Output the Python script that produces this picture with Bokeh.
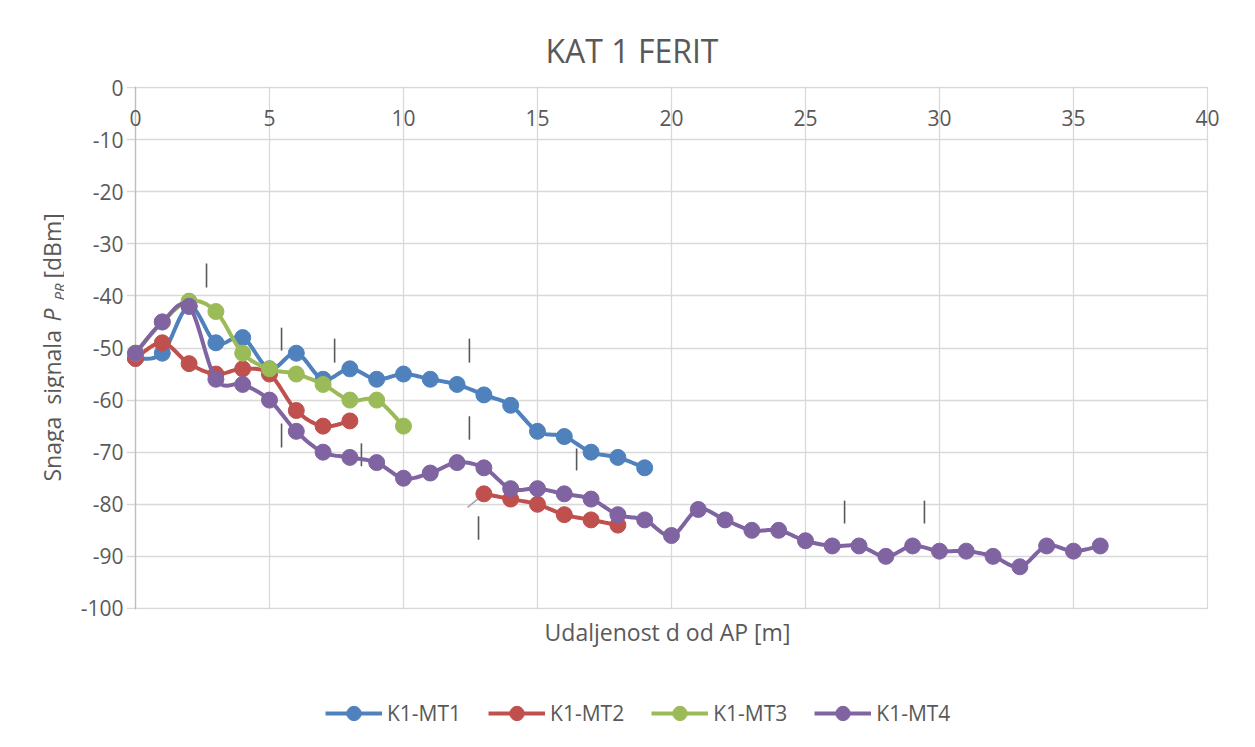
import numpy as np
from bokeh.plotting import figure
from bokeh.layouts import row, column
from bokeh.models import (Range1d, Legend, LegendItem, FixedTicker, LinearAxis, Grid,
                          ColumnDataSource)
from bokeh.embed import file_html
from bokeh.resources import INLINE
from bokeh.core.properties import value

# ---------------- data ----------------
title_text = "KAT 1 FERIT"
x_title = "Udaljenost d od AP [m]"
y_title_parts = ["Snaga\u00a0\u00a0signala\u00a0", "P", "PR", "[dBm]"]
series_names = ["K1-MT1", "K1-MT2", "K1-MT3", "K1-MT4"]
series_colors = ["#4F81BD", "#C0504D", "#9BBB59", "#8064A2"]

x_mt1 = list(range(0, 20))
y_mt1 = [-52, -51, -42, -49, -48, -54, -51, -56, -54, -56, -55, -56, -57, -59, -61, -66, -67, -70, -71, -73]

x_mt2 = [0, 1, 2, 3, 4, 5, 6, 7, 8, None, 13, 14, 15, 16, 17, 18]
y_mt2 = [-52, -49, -53, -55, -54, -55, -62, -65, -64, None, -78, -79, -80, -82, -83, -84]

x_mt3 = list(range(0, 11))
y_mt3 = [-51, -45, -41, -43, -51, -54, -55, -57, -60, -60, -65]

x_mt4 = list(range(0, 37))
y_mt4 = [-51, -45, -42, -56, -57, -60, -66, -70, -71, -72,
         -75, -74, -72, -73, -77, -77, -78, -79, -82, -83,
         -86, -81, -83, -85, -85, -87, -88, -88, -90, -88,
         -89, -89, -90, -92, -88, -89, -88]

x_ticks = [0, 5, 10, 15, 20, 25, 30, 35, 40]
y_ticks = [0, -10, -20, -30, -40, -50, -60, -70, -80, -90, -100]

# stray vertical marks seen on the chart (x, y_top, y_bottom)
mark_x = [2.65, 5.45, 7.43, 12.46, 5.45, 8.43, 12.46, 16.46, 12.8, 26.46, 29.44]
mark_y0 = [-33.8, -46.1, -48.2, -48.2, -64.5, -68.3, -63.1, -69.3, -82.3, -79.3, -79.3]
mark_y1 = [-38.4, -50.5, -52.8, -52.8, -69.1, -72.7, -67.6, -73.5, -86.8, -83.7, -83.7]
# small grey leader line
leader_x = [12.39, 12.99]
leader_y = [-80.6, -78.1]

FONT = "Open Sans"
TXT = "#595959"
GRID = "#d9d9d9"


def smooth(xs, ys, n=16):
    """Bezier smoothing through the points (like Excel smoothed lines); None splits segments."""
    segs, cx, cy = [], [], []
    for a, b in zip(xs, ys):
        if a is None:
            if cx:
                segs.append((cx, cy))
            cx, cy = [], []
        else:
            cx.append(a); cy.append(b)
    if cx:
        segs.append((cx, cy))
    outx, outy = [], []
    for sx, sy in segs:
        P = np.column_stack([sx, sy]).astype(float)
        m = len(P)
        for i in range(m - 1):
            p0 = P[i - 1] if i > 0 else P[i]
            p1, p2 = P[i], P[i + 1]
            p3 = P[i + 2] if i + 2 < m else P[i + 1]
            c1 = p1 + (p2 - p0) / 6.0
            c2 = p2 - (p3 - p1) / 6.0
            t = np.linspace(0, 1, n)[:, None]
            pts = ((1 - t) ** 3) * p1 + 3 * ((1 - t) ** 2) * t * c1 + 3 * (1 - t) * t ** 2 * c2 + t ** 3 * p2
            outx += list(pts[:, 0]); outy += list(pts[:, 1])
        outx.append(np.nan); outy.append(np.nan)
    return outx, outy


TOTAL_W, TOTAL_H = 1239, 731
YW = 64           # strip holding the y axis title
MAIN_W = TOTAL_W - YW
MAIN_H = 655
LEG_H = TOTAL_H - MAIN_H

series_x = [x_mt1, x_mt2, x_mt3, x_mt4]
series_y = [y_mt1, y_mt2, y_mt3, y_mt4]

# ---------------- main chart ----------------
# a little room around 0..40 / -100..0 so edge markers and edge grid lines are not clipped
p = figure(width=MAIN_W, height=MAIN_H, output_backend="svg", toolbar_location=None,
           x_range=Range1d(-0.336, 40.04), y_range=Range1d(-100.2, 0.2),
           min_border_left=62, min_border_right=31, min_border_top=86, min_border_bottom=46,
           background_fill_color="white", border_fill_color="white")
p.outline_line_color = None

p.title.text = title_text
p.title.align = "left"
p.title.offset = 419
p.title.text_font = FONT
p.title.text_font_size = "32px"
p.title.text_font_style = "normal"
p.title.text_color = TXT
p.title.standoff = 30

p.xgrid.ticker = FixedTicker(ticks=x_ticks)
p.ygrid.ticker = FixedTicker(ticks=y_ticks)
p.xgrid.grid_line_color = GRID
p.ygrid.grid_line_color = GRID
p.xgrid.grid_line_width = 1.3
p.ygrid.grid_line_width = 1.3
p.xgrid.bounds = (-100, 0)
p.ygrid.bounds = (0, 40)
# the value axis line at x = 0
p.add_layout(Grid(dimension=0, ticker=FixedTicker(ticks=[0]), bounds=(-100, 0),
                  grid_line_color="#bfbfbf", grid_line_width=1.3))

p.yaxis.ticker = FixedTicker(ticks=y_ticks)
p.yaxis.major_label_overrides = {v: str(v) for v in y_ticks}
p.yaxis.axis_line_color = None
p.yaxis.major_tick_line_color = None
p.yaxis.minor_tick_line_color = None
p.yaxis.major_tick_out = 0
p.yaxis.major_tick_in = 0
p.yaxis.major_label_standoff = 3
p.yaxis.major_label_text_font = FONT
p.yaxis.major_label_text_font_size = "21px"
p.yaxis.major_label_text_color = TXT

# bottom axis: only its title
p.xaxis.ticker = FixedTicker(ticks=[])
p.xaxis.axis_line_color = None
p.xaxis.major_tick_line_color = None
p.xaxis.minor_tick_line_color = None
p.xaxis.axis_label = x_title
p.xaxis.axis_label_text_font = FONT
p.xaxis.axis_label_text_font_size = "23px"
p.xaxis.axis_label_text_font_style = "normal"
p.xaxis.axis_label_text_color = TXT
p.xaxis.axis_label_standoff = 6

# x tick labels sit just under the y=0 line (axis crosses at 0, as in Excel)
top_axis = LinearAxis(ticker=FixedTicker(ticks=x_ticks), axis_line_color=None,
                      major_tick_line_color=None, minor_tick_line_color=None,
                      major_tick_in=0, major_tick_out=0, major_label_standoff=-39,
                      major_label_text_font=FONT, major_label_text_font_size="21px",
                      major_label_text_color=TXT)
p.add_layout(top_axis, "above")

# stray marks present in the source image
p.segment(x0=mark_x, y0=mark_y0, x1=mark_x, y1=mark_y1, line_color="#595959", line_width=1.6)
p.line(leader_x, leader_y, line_color="#a6a6a6", line_width=1.6)

for col, xs, ys in zip(series_colors, series_x, series_y):
    sx, sy = smooth(xs, ys)
    p.line(sx, sy, line_color=col, line_width=4, line_join="round", line_cap="round")
    px = [a for a in xs if a is not None]
    py = [b for b in ys if b is not None]
    p.scatter(px, py, marker="circle", size=16, fill_color=col, line_color=col)

# ---------------- y axis title strip ----------------
yf = figure(width=YW, height=TOTAL_H, output_backend="svg", toolbar_location=None,
            x_range=Range1d(0, YW), y_range=Range1d(0, TOTAL_H),
            x_axis_type=None, y_axis_type=None, min_border=0,
            background_fill_color="white", border_fill_color="white")
yf.outline_line_color = None
yf.grid.visible = False
yl_src = ColumnDataSource(dict(
    x=[51, 51, 58, 51],
    y=[250, 410, 431, 453],
    t=y_title_parts,
    size=["23px", "23px", "15px", "23px"],
    style=["normal", "italic", "italic", "normal"]))
yf.text(x="x", y="y", text="t", source=yl_src, angle=np.pi / 2, text_font=value(FONT),
        text_font_size="size", text_font_style="style", text_color=TXT,
        text_align="left", text_baseline="middle")

# ---------------- legend strip ----------------
# the series are drawn here outside the visible range, only to feed the legend glyphs
lf = figure(width=MAIN_W, height=LEG_H, output_backend="svg", toolbar_location=None,
            x_range=Range1d(0, 1), y_range=Range1d(1000, 1001),
            x_axis_type=None, y_axis_type=None, min_border=0,
            background_fill_color="white", border_fill_color="white")
lf.outline_line_color = None
lf.grid.visible = False
items = []
for name, col, xs, ys in zip(series_names, series_colors, series_x, series_y):
    px = [a for a in xs if a is not None]
    py = [b for b in ys if b is not None]
    lr = lf.line(px, py, line_color=col, line_width=4)
    cr = lf.scatter(px, py, marker="circle", size=16, fill_color=col, line_color=col)
    items.append(LegendItem(label=name, renderers=[lr, cr]))
legend = Legend(items=items, orientation="horizontal", location=(199, 0),
                label_text_font=FONT, label_text_font_size="21px", label_text_color=TXT,
                glyph_width=57, glyph_height=36, label_standoff=5, spacing=27,
                border_line_color=None, background_fill_alpha=0, margin=0, padding=0)
lf.add_layout(legend)

layout = row(yf, column(p, lf))
open("out.html", "w").write(file_html(layout, INLINE))
